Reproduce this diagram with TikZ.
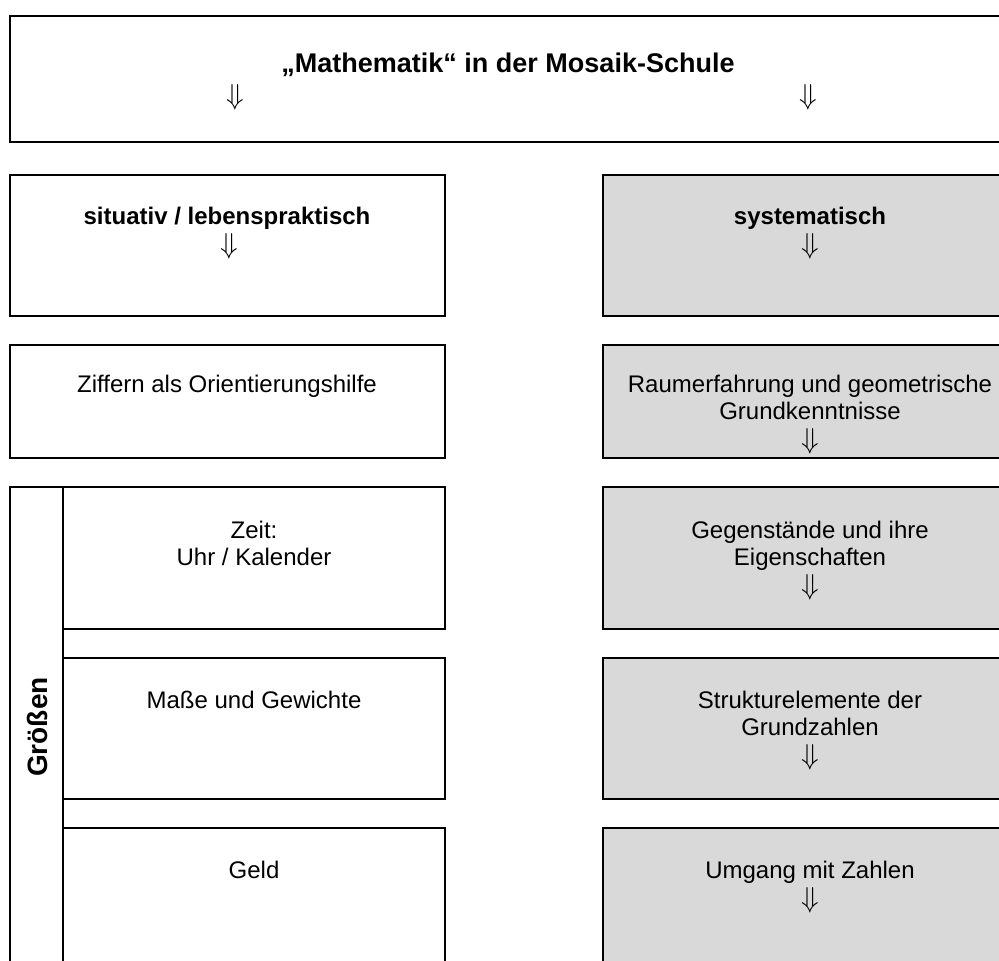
\documentclass[tikz,border=0pt]{standalone}
\usepackage{fontspec}
\setmainfont{Liberation Sans}
\definecolor{boxgray}{HTML}{D9D9D9}
\begin{document}
\begin{tikzpicture}[x=0.5pt,y=-0.5pt,
  frame/.style={draw=black, line width=1.1pt},
  grayframe/.style={frame, fill=boxgray},
  txt/.style={anchor=base, inner sep=0pt, font=\fontsize{12}{14}\selectfont},
  btxt/.style={anchor=base, inner sep=0pt, font=\fontsize{12}{14}\selectfont\bfseries},
  ttl/.style={anchor=base, inner sep=0pt, font=\fontsize{13.5}{16}\selectfont\bfseries},
  arr/.style={anchor=base, inner sep=0pt, text height=7pt, text depth=1pt, font=\fontsize{14.5}{16}\selectfont},
  vtxt/.style={anchor=center, inner sep=0pt, rotate=90, font=\fontsize{14}{16}\selectfont\bfseries},
]
\useasboundingbox (0,0) rectangle (999,961);
\clip (0,0) rectangle (999,961);
\fill[white] (0,0) rectangle (999,961);

% boxes
\draw[frame] (10,16) rectangle (1100,142);
\draw[frame] (10,175) rectangle (445,316);
\draw[grayframe] (603,175) rectangle (1100,316);
\draw[frame] (10,345) rectangle (445,458);
\draw[grayframe] (603,345) rectangle (1100,458);
\draw[frame] (10,487) rectangle (63,1000);
\draw[frame] (63,487) rectangle (445,629);
\draw[frame] (63,658) rectangle (445,799);
\draw[frame] (63,828) rectangle (445,1000);
\draw[grayframe] (603,487) rectangle (1100,629);
\draw[grayframe] (603,658) rectangle (1100,799);
\draw[grayframe] (603,828) rectangle (1100,1000);

% title box
\node[ttl] (title) at (508,73) {„Mathematik“ in der Mosaik-Schule};
\node[arr] (tarrL) at (235,105) {$\Downarrow$};
\node[arr] (tarrR) at (808,105) {$\Downarrow$};

% row 1
\node[btxt] (sit) at (227,225) {situativ / lebenspraktisch};
\node[arr] (sitarr) at (229,254) {$\Downarrow$};
\node[btxt] (sys) at (810,225) {systematisch};
\node[arr] (sysarr) at (810,254) {$\Downarrow$};

% row 2
\node[txt] (zif) at (227,393) {Ziffern als Orientierungshilfe};
\node[txt] (raumA) at (810,393) {Raumerfahrung und geometrische};
\node[txt] (raumB) at (810,420) {Grundkenntnisse};
\node[arr] (raumarr) at (810,449) {$\Downarrow$};

% Größen
\node[vtxt] (gro) at (37,727) {Größen};
\node[txt] (zeitA) at (254,538) {Zeit:};
\node[txt] (zeitB) at (254,565) {Uhr / Kalender};
\node[txt] (masse) at (254,708) {Maße und Gewichte};
\node[txt] (geld) at (254,878) {Geld};

% right column
\node[txt] (gegA) at (810,538) {Gegenstände und ihre};
\node[txt] (gegB) at (810,565) {Eigenschaften};
\node[arr] (gegarr) at (810,594) {$\Downarrow$};
\node[txt] (strA) at (810,708) {Strukturelemente der};
\node[txt] (strB) at (810,735) {Grundzahlen};
\node[arr] (strarr) at (810,764) {$\Downarrow$};
\node[txt] (umg) at (810,878) {Umgang mit Zahlen};
\node[arr] (umgarr) at (810,907) {$\Downarrow$};
\end{tikzpicture}
\end{document}
